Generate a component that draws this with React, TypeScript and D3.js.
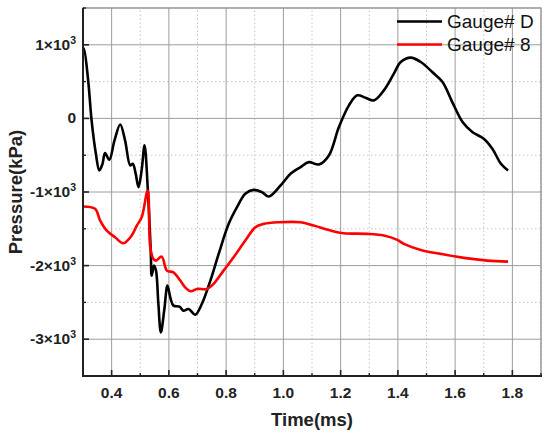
import { useRef, useEffect } from 'react';
import * as d3 from 'd3';

// Gauge# D (black)
const gaugeDTime = [0.3, 0.303, 0.318, 0.33, 0.345, 0.357, 0.368, 0.377, 0.392, 0.41, 0.43, 0.447, 0.465, 0.474, 0.484, 0.494, 0.505, 0.515, 0.526, 0.537, 0.54, 0.548, 0.555, 0.563, 0.572, 0.584, 0.595, 0.606, 0.616, 0.637, 0.651, 0.669, 0.692, 0.715, 0.745, 0.774, 0.809, 0.838, 0.867, 0.896, 0.925, 0.949, 0.99, 1.025, 1.06, 1.089, 1.124, 1.159, 1.194, 1.229, 1.258, 1.287, 1.316, 1.351, 1.386, 1.41, 1.445, 1.48, 1.52, 1.556, 1.59, 1.626, 1.66, 1.7, 1.73, 1.76, 1.785];
const gaugeDValue = [930, 948, 517, -27, -480, -707, -620, -472, -563, -300, -82, -300, -639, -617, -750, -934, -700, -367, -934, -1841, -2136, -2000, -2068, -2500, -2907, -2600, -2272, -2450, -2544, -2558, -2612, -2590, -2667, -2522, -2204, -1841, -1433, -1206, -1025, -971, -1002, -1061, -912, -753, -662, -594, -626, -503, -118, 177, 313, 281, 245, 381, 608, 766, 826, 766, 630, 494, 222, -50, -186, -276, -412, -616, -707];

// Gauge# 8 (red)
const gauge8Time = [0.3, 0.342, 0.36, 0.383, 0.412, 0.441, 0.47, 0.488, 0.505, 0.526, 0.535, 0.546, 0.555, 0.575, 0.593, 0.616, 0.64, 0.657, 0.677, 0.698, 0.733, 0.756, 0.791, 0.826, 0.867, 0.902, 0.931, 0.984, 1.06, 1.106, 1.165, 1.21, 1.293, 1.351, 1.398, 1.421, 1.48, 1.55, 1.631, 1.713, 1.785];
const gauge8Value = [-1197, -1229, -1388, -1524, -1615, -1696, -1592, -1456, -1343, -980, -1751, -1909, -1932, -1878, -2068, -2091, -2204, -2295, -2349, -2317, -2317, -2249, -2068, -1887, -1660, -1479, -1433, -1411, -1411, -1456, -1524, -1560, -1569, -1592, -1651, -1705, -1787, -1841, -1895, -1932, -1946];

const xTicks = [0.4, 0.6, 0.8, 1.0, 1.2, 1.4, 1.6, 1.8];
const xMinor = [0.3, 0.5, 0.7, 0.9, 1.1, 1.3, 1.5, 1.7, 1.9];
const yTicks = [1000, 0, -1000, -2000, -3000];
const yMinor = [1500, 500, -500, -1500, -2500, -3500];
const yTickBase = ['1×10', '0', '-1×10', '-2×10', '-3×10'];
const yTickSup = ['3', '', '3', '3', '3'];

const series = [
  { name: 'Gauge# D', color: '#000000', t: gaugeDTime, v: gaugeDValue },
  { name: 'Gauge# 8', color: '#ff0000', t: gauge8Time, v: gauge8Value },
];

export default function App() {
  const svgRef = useRef<SVGSVGElement>(null);

  useEffect(() => {
    if (!svgRef.current) return;
    const svg = d3.select(svgRef.current);
    svg.selectAll('*').remove();

    const width = 550;
    const height = 436;
    const margin = { top: 8, right: 9, bottom: 60, left: 83 };

    const x = d3.scaleLinear().domain([0.3, 1.9]).range([margin.left, width - margin.right]);
    const y = d3.scaleLinear().domain([-3500, 1500]).range([height - margin.bottom, margin.top]);
    const font = 'Arial, "Liberation Sans", sans-serif';

    const grid = svg.append('g');
    // minor grid (dotted)
    grid.selectAll('line.xm').data(xMinor).join('line')
      .attr('x1', (d) => x(d)).attr('x2', (d) => x(d))
      .attr('y1', y(-3500)).attr('y2', y(1500))
      .attr('stroke', '#c4c4c4').attr('stroke-dasharray', '1.5,2.5');
    grid.selectAll('line.ym').data(yMinor).join('line')
      .attr('y1', (d) => y(d)).attr('y2', (d) => y(d))
      .attr('x1', x(0.3)).attr('x2', x(1.9))
      .attr('stroke', '#c4c4c4').attr('stroke-dasharray', '1.5,2.5');
    // major grid
    grid.selectAll('line.xg').data(xTicks).join('line')
      .attr('x1', (d) => x(d)).attr('x2', (d) => x(d))
      .attr('y1', y(-3500)).attr('y2', y(1500))
      .attr('stroke', '#9c9c9c').attr('stroke-width', 1);
    grid.selectAll('line.yg').data(yTicks).join('line')
      .attr('y1', (d) => y(d)).attr('y2', (d) => y(d))
      .attr('x1', x(0.3)).attr('x2', x(1.9))
      .attr('stroke', '#9c9c9c').attr('stroke-width', 1);

    // frame: top/right gray
    svg.append('rect')
      .attr('x', x(0.3)).attr('y', y(1500))
      .attr('width', x(1.9) - x(0.3)).attr('height', y(-3500) - y(1500))
      .attr('fill', 'none').attr('stroke', '#8a8a8a').attr('stroke-width', 1.3);

    // curves
    const line = d3.line<[number, number]>()
      .x((d) => x(d[0])).y((d) => y(d[1]))
      .curve(d3.curveCatmullRom.alpha(0.5));
    series.forEach((s) => {
      const pts = s.t.map((t, i) => [t, s.v[i]] as [number, number]);
      svg.append('path')
        .attr('d', line(pts))
        .attr('fill', 'none')
        .attr('stroke', s.color)
        .attr('stroke-width', 2.6)
        .attr('stroke-linejoin', 'round');
    });

    // axes (left + bottom)
    const axisG = svg.append('g');
    axisG.append('line')
      .attr('x1', x(0.3)).attr('x2', x(0.3)).attr('y1', y(1500)).attr('y2', y(-3500))
      .attr('stroke', '#222').attr('stroke-width', 2);
    axisG.append('line')
      .attr('x1', x(0.3) - 1).attr('x2', x(1.9) + 1).attr('y1', y(-3500)).attr('y2', y(-3500))
      .attr('stroke', '#222').attr('stroke-width', 2);

    // ticks pointing inward
    axisG.selectAll('line.xt').data(xTicks).join('line')
      .attr('x1', (d) => x(d)).attr('x2', (d) => x(d))
      .attr('y1', y(-3500)).attr('y2', y(-3500) - 6)
      .attr('stroke', '#222').attr('stroke-width', 1.6);
    axisG.selectAll('line.xmt').data(xMinor).join('line')
      .attr('x1', (d) => x(d)).attr('x2', (d) => x(d))
      .attr('y1', y(-3500)).attr('y2', y(-3500) - 3)
      .attr('stroke', '#222').attr('stroke-width', 1.4);
    axisG.selectAll('line.yt').data(yTicks).join('line')
      .attr('y1', (d) => y(d)).attr('y2', (d) => y(d))
      .attr('x1', x(0.3)).attr('x2', x(0.3) + 6)
      .attr('stroke', '#222').attr('stroke-width', 1.6);
    axisG.selectAll('line.ymt').data(yMinor).join('line')
      .attr('y1', (d) => y(d)).attr('y2', (d) => y(d))
      .attr('x1', x(0.3)).attr('x2', x(0.3) + 3)
      .attr('stroke', '#222').attr('stroke-width', 1.4);

    // x tick labels
    svg.selectAll('text.xl').data(xTicks).join('text')
      .attr('x', (d) => x(d)).attr('y', y(-3500) + 22)
      .attr('text-anchor', 'middle')
      .style('font-family', font).style('font-size', '15.5px').style('font-weight', 'bold')
      .attr('fill', '#222')
      .text((d) => d.toFixed(1));

    // y tick labels with superscripts
    yTicks.forEach((v, i) => {
      const t = svg.append('text')
        .attr('x', x(0.3) - 7).attr('y', y(v) + 5)
        .attr('text-anchor', 'end')
        .style('font-family', font).style('font-size', '15.5px').style('font-weight', 'bold')
        .attr('fill', '#222');
      t.append('tspan').text(yTickBase[i]);
      if (yTickSup[i]) {
        t.append('tspan').attr('dy', -6).style('font-size', '10.5px').text(yTickSup[i]);
      }
    });

    // axis titles
    svg.append('text')
      .attr('x', (x(0.3) + x(1.9)) / 2).attr('y', 426)
      .attr('text-anchor', 'middle')
      .style('font-family', font).style('font-size', '18.5px').style('font-weight', 'bold')
      .attr('fill', '#222')
      .text('Time(ms)');
    svg.append('text')
      .attr('transform', `translate(22, ${(y(1500) + y(-3500)) / 2}) rotate(-90)`)
      .attr('text-anchor', 'middle')
      .style('font-family', font).style('font-size', '18.5px').style('font-weight', 'bold')
      .attr('fill', '#222')
      .text('Pressure(kPa)');

    // legend
    series.forEach((s, i) => {
      const ly = 21.5 + i * 23;
      svg.append('line')
        .attr('x1', 397).attr('x2', 442).attr('y1', ly).attr('y2', ly)
        .attr('stroke', s.color).attr('stroke-width', 2.6);
      svg.append('text')
        .attr('x', 447).attr('y', ly + 6.5)
        .style('font-family', font).style('font-size', '19px')
        .attr('fill', '#111')
        .text(s.name);
    });
  }, []);

  return (
    <div style={{ position: 'absolute', left: 0, top: 0, width: 550, height: 436, background: '#fff' }}>
      <svg ref={svgRef} width={550} height={436} style={{ display: 'block' }} />
    </div>
  );
}
